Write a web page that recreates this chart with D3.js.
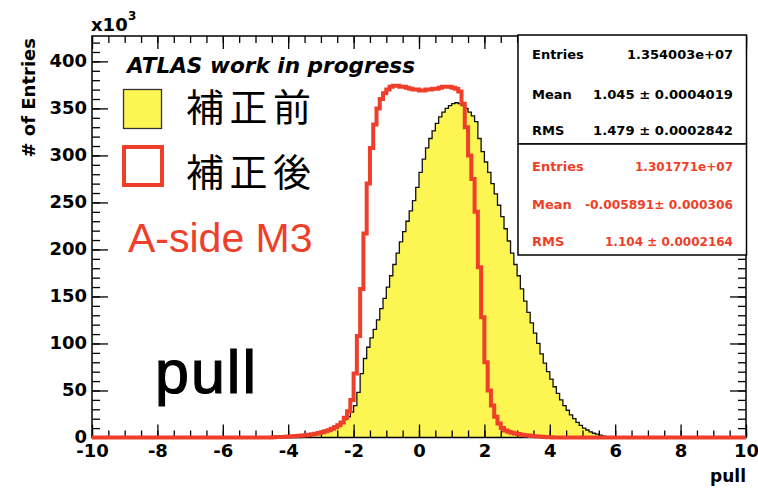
<!DOCTYPE html>
<html>
<head>
<meta charset="utf-8">
<script src="https://cdn.jsdelivr.net/npm/d3@7"></script>
<style>
  html, body { margin: 0; padding: 0; background: #fff; }
  svg { display: block; }
</style>
</head>
<body>
<svg id="chart" width="758" height="490"></svg>
<script>
// ---- data (counts in units of 10^3 per 0.1-wide pull bin) ----
const binWidth = 0.1;
const xRange = [-10, 10];
const yMax = 427;

// before correction: first bin starts at pull = -3.6
const beforeStart = -3.6;
const beforeCounts = [
  0.5, 1, 1.5, 2, 3, 4, 5, 6.5, 8, 10, 12, 14, 16, 19, 22, 27, 34,
  48, 68, 84, 96, 106, 115, 125, 137, 148, 160, 172, 184, 196, 208, 219, 230, 241, 252, 266,
  282, 296, 308, 318, 326, 334, 341, 346, 350, 353,
  355, 356, 355, 353, 350, 346, 342, 336, 318, 304,
  293, 282, 270, 259, 247, 235, 222, 209, 196, 184,
  172, 158, 145, 133, 122, 111, 100, 89, 79, 70,
  62, 54, 47, 40, 34, 29, 24, 20, 16, 13,
  10, 8, 6, 4.5, 3.5, 2.5, 1.5, 1, 0.5
];

// after correction: first bin starts at pull = -4.5
const afterStart = -4.5;
const afterCounts = [
  0.3, 0.4, 0.5, 0.6, 0.8, 1.0, 1.2, 1.5, 1.8, 2.1,
  2.5, 3.0, 3.5, 4.1, 4.8, 5.6, 6.6, 7.8, 9.3, 11,
  13, 16, 21, 28, 40, 68, 108, 158, 217, 270,
  308, 333, 350, 360, 366, 370, 373, 374, 374, 373,
  373, 372, 371, 370, 370, 369, 369, 370, 370, 371,
  371, 372, 373, 373, 373, 372, 371, 368, 355, 330,
  300, 275, 240, 181, 128, 80, 50, 34, 22, 15,
  10, 7.5, 6, 5, 4.2, 3.6, 3.0, 2.5, 2.1, 1.7,
  1.3, 1.0, 0.7, 0.5, 0.3, 0.2
];

const xMajorTicks = [-10, -8, -6, -4, -2, 0, 2, 4, 6, 8, 10];
const yMajorTicks = [0, 50, 100, 150, 200, 250, 300, 350, 400];

const statNames = ["Entries", "Mean", "RMS"];
const statsBefore = ["1.354003e+07", "1.045 \u00b1 0.0004019", "1.479 \u00b1 0.0002842"];
const statsAfter = ["1.301771e+07", "-0.005891\u00b1 0.000306", "1.104 \u00b1 0.0002164"];

const legendLabels = ["補正前", "補正後"];

// ---- styles ----
const RED = "#ef3f2a";
const YELLOW = "#fdf552";
const ROOT_FONT = "'DejaVu Sans', 'Liberation Sans', Arial, sans-serif";

const svg = d3.select("#chart");

const x = d3.scaleLinear().domain(xRange).range([92, 746]);
const y = d3.scaleLinear().domain([0, yMax]).range([437.5, 36]);

// expand a binned histogram into step corner points over the full axis range
function stepPoints(start, counts) {
  const nBins = Math.round((xRange[1] - xRange[0]) / binWidth);
  const offset = Math.round((start - xRange[0]) / binWidth);
  const pts = [];
  for (let i = 0; i < nBins; i++) {
    const j = i - offset;
    const v = (j >= 0 && j < counts.length) ? counts[j] : 0;
    const lo = xRange[0] + i * binWidth;
    const hi = xRange[0] + (i + 1) * binWidth;
    pts.push([lo, v], [hi, v]);
  }
  return pts;
}

const beforePts = stepPoints(beforeStart, beforeCounts);
const afterPts = stepPoints(afterStart, afterCounts);

// filled "before" histogram
svg.append("path")
  .datum(beforePts)
  .attr("fill", YELLOW)
  .attr("d", d3.area().x(d => x(d[0])).y0(y(0)).y1(d => y(d[1])));

svg.append("path")
  .datum(beforePts)
  .attr("fill", "none")
  .attr("stroke", "#111")
  .attr("stroke-width", 1.3)
  .attr("d", d3.line().x(d => x(d[0])).y(d => y(d[1])));

// ---- axes ----
const xMinor = d3.range(-20, 21).map(i => i * 0.5);
const yMinor = d3.range(0, 43).map(i => i * 10);

function styleAxis(g) {
  g.select(".domain").remove();
  g.selectAll(".tick line").attr("stroke", "#000").attr("stroke-width", 1.3);
}
function styleLabels(g) {
  g.selectAll("text")
    .attr("fill", "#000")
    .style("font-family", ROOT_FONT)
    .style("font-weight", "bold")
    .style("font-size", "18px");
}

svg.append("g")
  .attr("transform", `translate(0,${y(0)})`)
  .call(d3.axisBottom(x).tickValues(xMinor).tickSize(-7).tickFormat(""))
  .call(styleAxis);
svg.append("g")
  .attr("transform", `translate(0,${y(0)})`)
  .call(d3.axisBottom(x).tickValues(xMajorTicks).tickSize(-13).tickPadding(7)
    .tickFormat(d => String(d)))
  .call(styleAxis)
  .call(styleLabels);

svg.append("g")
  .attr("transform", `translate(0,${y(yMax)})`)
  .call(d3.axisTop(x).tickValues(xMinor).tickSize(-7).tickFormat(""))
  .call(styleAxis);
svg.append("g")
  .attr("transform", `translate(0,${y(yMax)})`)
  .call(d3.axisTop(x).tickValues(xMajorTicks).tickSize(-13).tickFormat(""))
  .call(styleAxis);

svg.append("g")
  .attr("transform", `translate(${x(-10)},0)`)
  .call(d3.axisLeft(y).tickValues(yMinor).tickSize(-8).tickFormat(""))
  .call(styleAxis);
svg.append("g")
  .attr("transform", `translate(${x(-10)},0)`)
  .call(d3.axisLeft(y).tickValues(yMajorTicks).tickSize(-16).tickPadding(5)
    .tickFormat(d => String(d)))
  .call(styleAxis)
  .call(styleLabels)
  .call(g => g.selectAll("text").attr("dy", "0.28em"));

svg.append("g")
  .attr("transform", `translate(${x(10)},0)`)
  .call(d3.axisRight(y).tickValues(yMinor).tickSize(-8).tickFormat(""))
  .call(styleAxis);
svg.append("g")
  .attr("transform", `translate(${x(10)},0)`)
  .call(d3.axisRight(y).tickValues(yMajorTicks).tickSize(-16).tickFormat(""))
  .call(styleAxis);

// frame
svg.append("rect")
  .attr("x", x(-10)).attr("y", y(yMax))
  .attr("width", x(10) - x(-10)).attr("height", y(0) - y(yMax))
  .attr("fill", "none").attr("stroke", "#000").attr("stroke-width", 1.5);

// "after" histogram outline on top
svg.append("path")
  .datum(afterPts)
  .attr("fill", "none")
  .attr("stroke", RED)
  .attr("stroke-width", 4)
  .attr("stroke-linejoin", "miter")
  .attr("d", d3.line().x(d => x(d[0])).y(d => y(d[1])));

// ---- axis titles ----
svg.append("text")
  .attr("transform", "translate(35,38) rotate(-90)")
  .attr("text-anchor", "end")
  .style("font-family", ROOT_FONT).style("font-weight", "bold").style("font-size", "18px")
  .text("# of Entries");

svg.append("text")
  .attr("x", 746).attr("y", 482)
  .attr("text-anchor", "end")
  .style("font-family", ROOT_FONT).style("font-weight", "bold").style("font-size", "17px")
  .text("pull");

svg.append("text")
  .attr("x", 91).attr("y", 31)
  .style("font-family", ROOT_FONT).style("font-weight", "bold").style("font-size", "18px")
  .text("x10");
svg.append("text")
  .attr("x", 128).attr("y", 20)
  .style("font-family", ROOT_FONT).style("font-weight", "bold").style("font-size", "12px")
  .text("3");

// ---- statistics boxes ----
const boxX0 = 518, boxX1 = 746.5;
const valueRight = 733;
const boxes = [
  { y0: 35, y1: 144, color: "#000", values: statsBefore,
    baselines: [59, 99, 134.5], widths: [106, 140, 140] },
  { y0: 144, y1: 255, color: RED, values: statsAfter,
    baselines: [171, 209, 246], widths: [98, 148, 128] }
];
boxes.forEach(b => {
  svg.append("rect")
    .attr("x", boxX0).attr("y", b.y0)
    .attr("width", boxX1 - boxX0).attr("height", b.y1 - b.y0)
    .attr("fill", "#fff").attr("stroke", "#000").attr("stroke-width", 1.5);
  statNames.forEach((name, i) => {
    svg.append("text")
      .attr("x", 532).attr("y", b.baselines[i])
      .attr("fill", b.color)
      .style("font-family", ROOT_FONT).style("font-weight", "bold").style("font-size", "13px")
      .text(name);
    svg.append("text")
      .attr("x", valueRight - b.widths[i]).attr("y", b.baselines[i])
      .attr("textLength", b.widths[i]).attr("lengthAdjust", "spacingAndGlyphs")
      .attr("fill", b.color)
      .style("font-family", ROOT_FONT).style("font-weight", "bold").style("font-size", "13px")
      .text(b.values[i]);
  });
});

// ---- annotations and legend ----
svg.append("text")
  .attr("x", 127).attr("y", 73)
  .attr("textLength", 288).attr("lengthAdjust", "spacingAndGlyphs")
  .style("font-family", ROOT_FONT).style("font-weight", "bold").style("font-style", "italic")
  .style("font-size", "21px")
  .text("ATLAS work in progress");

svg.append("rect")
  .attr("x", 123.5).attr("y", 89.5).attr("width", 38).attr("height", 39)
  .attr("fill", YELLOW).attr("stroke", "#333").attr("stroke-width", 1.3);
svg.append("rect")
  .attr("x", 124).attr("y", 147).attr("width", 38).attr("height", 38)
  .attr("fill", "#fff").attr("stroke", RED).attr("stroke-width", 4);

legendLabels.forEach((lab, i) => {
  svg.append("text")
    .attr("x", 186).attr("y", [121, 186][i])
    .style("font-family", "'Noto Sans CJK JP', 'Noto Sans CJK SC', sans-serif")
    .style("font-size", "38px")
    .style("letter-spacing", "5.5px")
    .attr("fill", "#000")
    .text(lab);
});

svg.append("text")
  .attr("x", 128).attr("y", 252)
  .attr("fill", RED)
  .style("font-family", "'Liberation Sans', Arial, sans-serif")
  .style("font-size", "41px")
  .text("A-side M3");

svg.append("text")
  .attr("x", 155).attr("y", 393)
  .attr("fill", "#000").attr("stroke", "#000").attr("stroke-width", 1.2)
  .style("font-family", "'Liberation Sans', Arial, sans-serif")
  .style("font-size", "61px")
  .style("letter-spacing", "2px")
  .text("pull");
</script>
</body>
</html>
